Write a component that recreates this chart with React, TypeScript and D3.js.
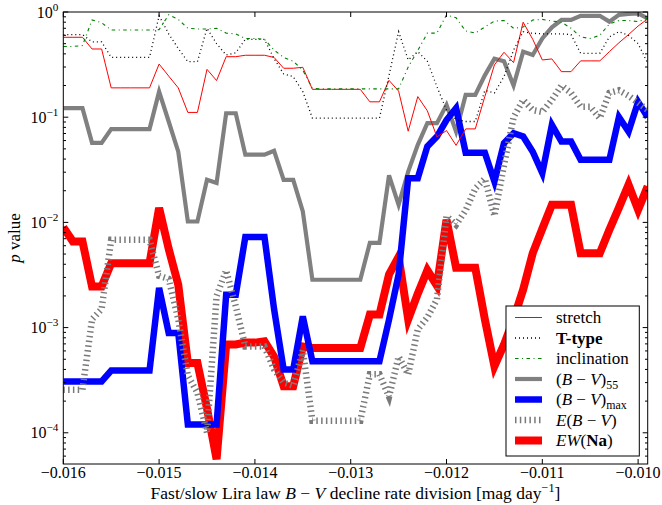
import React, { useEffect, useRef } from "react";
import * as d3 from "d3";

const width = 662;
const height = 505;
const margin = { top: 12, right: 14.3, bottom: 41, left: 63.3 };
const FONT = '"Liberation Serif", "DejaVu Serif", serif';

// fast/slow division (mag/day)
const divisions = [
  -0.016, -0.0159, -0.0158, -0.0157, -0.0156, -0.0155, -0.0154, -0.0153, -0.0152, -0.0151,
  -0.015, -0.0149, -0.0148, -0.0147, -0.0146, -0.0145, -0.0144, -0.0143, -0.0142, -0.0141,
  -0.014, -0.0139, -0.0138, -0.0137, -0.0136, -0.0135, -0.0134, -0.0133, -0.0132, -0.0131,
  -0.013, -0.0129, -0.0128, -0.0127, -0.0126, -0.0125, -0.0124, -0.0123, -0.0122, -0.0121,
  -0.012, -0.0119, -0.0118, -0.0117, -0.0116, -0.0115, -0.0114, -0.0113, -0.0112, -0.0111,
  -0.011, -0.0109, -0.0108, -0.0107, -0.0106, -0.0105, -0.0104, -0.0103, -0.0102, -0.0101,
  -0.01, -0.0099,
];

const stretch = [
  0.575, 0.575, 0.575, 0.445, 0.445, 0.19, 0.19, 0.19, 0.19, 0.19,
  0.32, 0.246, 0.19, 0.111, 0.111, 0.285, 0.223, 0.376, 0.376, 0.388,
  0.388, 0.388, 0.37, 0.292, 0.292, 0.298, 0.184, 0.184, 0.184, 0.184,
  0.184, 0.184, 0.14, 0.14, 0.224, 0.177, 0.0736, 0.157, 0.115, 0.065,
  0.0746, 0.054, 0.0774, 0.0774, 0.157, 0.314, 0.414, 0.33, 0.8, 0.55,
  0.35, 0.358, 0.271, 0.271, 0.343, 0.343, 0.343, 0.42, 0.51, 0.61,
  0.736, 0.86,
];

const tType = [
  0.61, 0.61, 0.61, 0.52, 0.52, 0.37, 0.37, 0.37, 0.37, 0.37,
  0.92, 0.62, 0.45, 0.337, 0.337, 0.7, 0.5, 0.39, 0.41, 0.55,
  0.55, 0.55, 0.36, 0.258, 0.243, 0.175, 0.098, 0.098, 0.098, 0.098,
  0.098, 0.098, 0.098, 0.098, 0.25, 0.65, 0.35, 0.42, 0.34, 0.195,
  0.117, 0.095, 0.091, 0.091, 0.18, 0.17, 0.243, 0.435, 0.65, 0.627,
  0.62, 0.62, 0.62, 0.61, 0.405, 0.405, 0.405, 0.58, 0.65, 0.6,
  0.5, 0.326,
];

const inclination = [
  0.47, 0.47, 0.48, 0.84, 0.79, 0.675, 0.675, 0.675, 0.675, 0.675,
  0.68, 0.94, 0.85, 0.7, 0.69, 0.69, 0.7, 0.63, 0.62, 0.56,
  0.56, 0.55, 0.435, 0.37, 0.34, 0.28, 0.188, 0.186, 0.186, 0.186,
  0.186, 0.186, 0.186, 0.186, 0.186, 0.186, 0.3, 0.43, 0.63, 0.63,
  0.94, 0.88, 0.66, 0.63, 0.72, 0.82, 0.83, 0.7, 0.72, 0.84,
  0.85, 0.82, 0.8, 0.7, 0.58, 0.56, 0.6, 0.77, 0.83, 0.83,
  0.81, 0.87,
];

const bv55 = [
  0.122, 0.122, 0.122, 0.057, 0.057, 0.077, 0.077, 0.077, 0.077, 0.077,
  0.175, 0.091, 0.047, 0.0102, 0.0102, 0.0254, 0.0237, 0.109, 0.109, 0.044,
  0.044, 0.044, 0.048, 0.0254, 0.0254, 0.0127, 0.00285, 0.00285, 0.00285, 0.00285,
  0.00285, 0.00285, 0.0064, 0.0064, 0.028, 0.0147, 0.0304, 0.0546, 0.0877, 0.0877,
  0.131, 0.073, 0.163, 0.163, 0.25, 0.36, 0.34, 0.2, 0.42, 0.39,
  0.56, 0.715, 0.84, 0.84, 0.92, 0.92, 0.92, 0.81, 0.94, 0.96,
  0.97, 0.87,
];

const bvMax = [
  3.08e-4, 3.08e-4, 3.08e-4, 3.08e-4, 3.08e-4, 3.9e-4, 3.9e-4, 3.9e-4, 3.9e-4, 3.9e-4,
  2.38e-3, 8.9e-4, 8.9e-4, 1.2e-4, 1.2e-4, 1.2e-4, 1.2e-4, 2.05e-3, 2.05e-3, 7.25e-3,
  7.25e-3, 7.25e-3, 1.5e-3, 4.0e-4, 4.0e-4, 1.28e-3, 4.78e-4, 4.78e-4, 4.78e-4, 4.78e-4,
  4.78e-4, 4.78e-4, 4.78e-4, 4.78e-4, 1.19e-3, 3.2e-3, 0.0263, 0.0263, 0.0528, 0.0655,
  0.094, 0.122, 0.046, 0.046, 0.046, 0.0245, 0.0566, 0.0705, 0.0655, 0.047,
  0.0294, 0.0845, 0.0586, 0.0586, 0.0393, 0.0393, 0.0393, 0.0393, 0.1, 0.073,
  0.14, 0.1,
];

const ebv = [
  2.57e-4, 2.57e-4, 2.57e-4, 1.2e-3, 1.5e-3, 6.84e-3, 6.84e-3, 6.84e-3, 6.84e-3, 6.84e-3,
  3.1e-3, 2.9e-3, 1.2e-3, 3.5e-4, 2.4e-4, 1.0e-4, 2.0e-3, 3.5e-3, 1.6e-3, 6.6e-4,
  6.6e-4, 6.6e-4, 4.0e-4, 3.0e-4, 2.8e-4, 6.1e-4, 1.3e-4, 1.3e-4, 1.3e-4, 1.3e-4,
  1.3e-4, 1.3e-4, 3.6e-4, 3.6e-4, 2.2e-4, 5.3e-4, 3.6e-4, 9.6e-4, 1.25e-3, 1.85e-3,
  0.0115, 9.5e-3, 0.013, 0.021, 0.026, 0.0115, 0.035, 0.1, 0.146, 0.117,
  0.112, 0.146, 0.2, 0.17, 0.126, 0.126, 0.098, 0.17, 0.18, 0.16,
  0.137, 0.117,
];

const ewNa = [
  0.009, 6.6e-3, 6.6e-3, 2.46e-3, 2.46e-3, 4.1e-3, 4.1e-3, 4.1e-3, 4.1e-3, 4.1e-3,
  0.0137, 5.6e-3, 2.55e-3, 4.6e-4, 4.6e-4, 1.7e-4, 5.6e-5, 6.9e-4, 6.9e-4, 7.2e-4,
  7.2e-4, 7.4e-4, 5.3e-4, 2.77e-4, 2.77e-4, 6.6e-4, 6.4e-4, 6.4e-4, 6.4e-4, 6.4e-4,
  6.4e-4, 6.4e-4, 1.33e-3, 1.33e-3, 3.2e-3, 4.7e-3, 1.2e-3, 2.1e-3, 3.5e-3, 2.5e-3,
  0.0106, 3.7e-3, 3.7e-3, 3.7e-3, 1.2e-3, 4.3e-4, 6.9e-4, 1.2e-3, 2.3e-3, 5.1e-3,
  8.7e-3, 0.0147, 0.0147, 0.0147, 5.1e-3, 5.1e-3, 5.1e-3, 8.5e-3, 0.0138, 0.0228,
  0.0132, 0.022,
];

const xTicks = [-0.016, -0.015, -0.014, -0.013, -0.012, -0.011, -0.01];
const xTickLabels = ["\u22120.016", "\u22120.015", "\u22120.014", "\u22120.013", "\u22120.012", "\u22120.011", "\u22120.010"];
const yTicks = [1, 0.1, 0.01, 0.001, 0.0001];
const yTickExponents = ["0", "\u22121", "\u22122", "\u22123", "\u22124"];

// label pieces: i = italic, b = bold, sub/sup = shifted small text
const minusPart = { t: " \u2212 " };
const bvParts = [{ t: "(" }, { t: "B", i: true }, minusPart, { t: "V", i: true }, { t: ")" }];

// legend order == line order in the paper
const series = [
  { name: "stretch", values: stretch, color: "#ff0000", lw: 1, dash: null, label: [{ t: "stretch" }] },
  { name: "ttype", values: tType, color: "#000000", lw: 1.3, dash: "1 3", label: [{ t: "T-type", b: true }] },
  { name: "incl", values: inclination, color: "#008000", lw: 1.1, dash: "3.5 3.5 1 3.5", label: [{ t: "inclination" }] },
  { name: "bv55", values: bv55, color: "#808080", lw: 4.2, dash: null, label: [...bvParts, { t: "55", sub: true }] },
  { name: "bvmax", values: bvMax, color: "#0000ff", lw: 6.5, dash: null, label: [...bvParts, { t: "max", sub: true }] },
  { name: "ebv", values: ebv, color: "#7a7a7a", lw: 6.5, dash: "1.5 3.3", label: [{ t: "E", i: true }, ...bvParts] },
  {
    name: "ewna", values: ewNa, color: "#ff0000", lw: 8, dash: null,
    label: [{ t: "EW", i: true }, { t: "(" }, { t: "Na", b: true }, { t: ")" }],
  },
];
// stacking of the curves (thick ones underneath the thin ones)
const drawOrder = ["bv55", "ewna", "bvmax", "ebv", "stretch", "ttype", "incl"];

function richText(text, parts, size) {
  let shifted = 0;
  parts.forEach((p) => {
    const ts = text.append("tspan").text(p.t);
    if (p.i) ts.attr("font-style", "italic");
    if (p.b) ts.attr("font-weight", "bold");
    const want = p.sub ? 4 : p.sup ? -7 : 0;
    if (want !== shifted) {
      ts.attr("dy", want - shifted);
      shifted = want;
    }
    if (p.sub || p.sup) ts.attr("font-size", size * 0.7);
  });
}

function drawChart(el) {
  const svg = d3.select(el);
  svg.selectAll("*").remove();

  const x = d3
    .scaleLinear()
    .domain([-0.016, -0.0099])
    .range([margin.left, width - margin.right]);
  const y = d3
    .scaleLog()
    .domain([5.05e-5, 1])
    .range([height - margin.bottom, margin.top]);

  const [x0, x1] = x.range();
  const [y0, y1] = [y.range()[1], y.range()[0]];

  svg.append("rect").attr("width", width).attr("height", height).attr("fill", "white");

  svg.append("defs")
    .append("clipPath")
    .attr("id", "plot-clip")
    .append("rect")
    .attr("x", x0)
    .attr("y", y0)
    .attr("width", x1 - x0)
    .attr("height", y1 - y0);

  const line = d3
    .line()
    .x((_d, i) => x(divisions[i]))
    .y((d) => y(d));

  const gLines = svg.append("g").attr("clip-path", "url(#plot-clip)").attr("fill", "none");
  drawOrder.forEach((name) => {
    const s = series.find((d) => d.name === name);
    const p = gLines
      .append("path")
      .attr("d", line(s.values))
      .attr("stroke", s.color)
      .attr("stroke-width", s.lw)
      .attr("stroke-linejoin", "miter")
      .attr("stroke-miterlimit", 4);
    if (s.dash) p.attr("stroke-dasharray", s.dash);
  });

  // frame + inward ticks on all four sides
  const gAxes = svg.append("g").attr("stroke", "black").attr("stroke-width", 1);
  gAxes.append("rect")
    .attr("x", x0).attr("y", y0).attr("width", x1 - x0).attr("height", y1 - y0)
    .attr("fill", "none");

  xTicks.forEach((t) => {
    const px = x(t);
    gAxes.append("line").attr("x1", px).attr("x2", px).attr("y1", y1).attr("y2", y1 - 5);
    gAxes.append("line").attr("x1", px).attr("x2", px).attr("y1", y0).attr("y2", y0 + 5);
  });

  const [lo, hi] = y.domain();
  const minor = [];
  for (let k = -5; k < 0; k++) {
    for (let m = 2; m <= 9; m++) {
      const v = m * Math.pow(10, k);
      if (v >= lo && v <= hi) minor.push(v);
    }
  }
  yTicks.forEach((t) => {
    const py = y(t);
    gAxes.append("line").attr("x1", x0).attr("x2", x0 + 5).attr("y1", py).attr("y2", py);
    gAxes.append("line").attr("x1", x1).attr("x2", x1 - 5).attr("y1", py).attr("y2", py);
  });
  minor.forEach((t) => {
    const py = y(t);
    gAxes.append("line").attr("x1", x0).attr("x2", x0 + 2.7).attr("y1", py).attr("y2", py);
    gAxes.append("line").attr("x1", x1).attr("x2", x1 - 2.7).attr("y1", py).attr("y2", py);
  });

  const gText = svg.append("g").attr("font-family", FONT).attr("fill", "black");

  xTicks.forEach((t, i) => {
    gText.append("text")
      .attr("x", x(t))
      .attr("y", y1 + 14)
      .attr("text-anchor", "middle")
      .attr("font-size", 16)
      .text(xTickLabels[i]);
  });

  yTicks.forEach((t, i) => {
    const txt = gText.append("text")
      .attr("x", x0 - 5)
      .attr("y", y(t) + 5.5)
      .attr("text-anchor", "end")
      .attr("font-size", 16);
    richText(txt, [{ t: "10" }, { t: yTickExponents[i], sup: true }], 16);
  });

  const xl = gText.append("text")
    .attr("x", (x0 + x1) / 2)
    .attr("y", 499)
    .attr("text-anchor", "middle")
    .attr("font-size", 17.5);
  richText(xl, [
    { t: "Fast/slow Lira law " }, { t: "B", i: true }, minusPart, { t: "V", i: true },
    { t: " decline rate division [mag day" }, { t: "\u22121", sup: true }, { t: "]" },
  ], 17.5);

  const yl = gText.append("text")
    .attr("transform", `translate(20,${(y0 + y1) / 2}) rotate(-90)`)
    .attr("text-anchor", "middle")
    .attr("font-size", 17);
  richText(yl, [{ t: "p", i: true }, { t: " value" }], 17);

  // legend
  const lg = svg.append("g");
  lg.append("rect")
    .attr("x", 506).attr("y", 306).attr("width", 133.3).attr("height", 150)
    .attr("fill", "white").attr("stroke", "black").attr("stroke-width", 1);
  series.forEach((s, i) => {
    const ry = 317.5 + i * 20.5;
    const l = lg.append("line")
      .attr("x1", 515).attr("x2", 542).attr("y1", ry).attr("y2", ry)
      .attr("stroke", s.color).attr("stroke-width", s.lw);
    if (s.dash) l.attr("stroke-dasharray", s.dash);
    const txt = lg.append("text")
      .attr("x", 556)
      .attr("y", ry + 5.5)
      .attr("font-family", FONT)
      .attr("font-size", 17);
    richText(txt, s.label, 17);
  });
}

export default function App() {
  const ref = useRef(null);
  useEffect(() => {
    if (ref.current) drawChart(ref.current);
  }, []);
  return (
    <div style={{ position: "fixed", left: 0, top: 0 }}>
      <svg ref={ref} width={width} height={height} style={{ display: "block" }} />
    </div>
  );
}
